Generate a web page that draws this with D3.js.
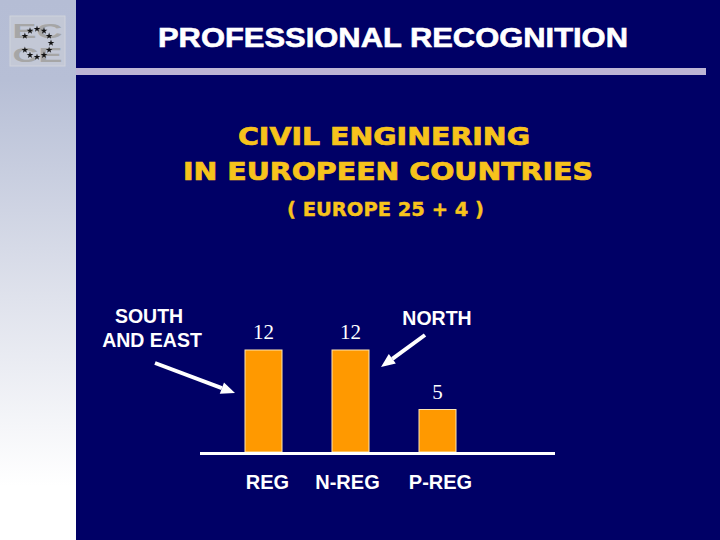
<!DOCTYPE html>
<html>
<head>
<meta charset="utf-8">
<script src="https://cdn.jsdelivr.net/npm/d3@7"></script>
<style>
html,body{margin:0;padding:0;background:#000066;}
svg{display:block;}
</style>
</head>
<body>
<svg id="chart" width="720" height="540"></svg>
<script>
const categories = ["REG", "N-REG", "P-REG"];
const values = [12, 12, 5];
const valueLabels = ["12", "12", "5"];
const mainTitle = "PROFESSIONAL RECOGNITION";
const subTitleLines = ["CIVIL ENGINERING", "IN EUROPEEN COUNTRIES"];
const subNote = "( EUROPE 25 + 4 )";
const southLabel = ["SOUTH", "AND EAST"];
const northLabel = "NORTH";

const svg = d3.select("#chart");
const W = 720, H = 540;
const navy = "#000066";
const defs = svg.append("defs");

// background
svg.append("rect").attr("x", 0).attr("y", 0).attr("width", W).attr("height", H).attr("fill", navy);
const grad = defs.append("linearGradient").attr("id", "side").attr("x1", 0).attr("y1", 0).attr("x2", 0).attr("y2", 1);
grad.append("stop").attr("offset", "0").attr("stop-color", "#b5bdd5");
grad.append("stop").attr("offset", "0.15").attr("stop-color", "#b7bfd6");
grad.append("stop").attr("offset", "0.55").attr("stop-color", "#dfe2ec");
grad.append("stop").attr("offset", "0.9").attr("stop-color", "#ffffff");
grad.append("stop").attr("offset", "1").attr("stop-color", "#ffffff");
svg.append("rect").attr("x", 0).attr("y", 0).attr("width", 76).attr("height", H).attr("fill", "url(#side)");

// header rule
svg.append("rect").attr("x", 76).attr("y", 68).attr("width", 630).attr("height", 7).attr("fill", "#bdb5d5");

// logo
const logo = svg.append("g");
logo.append("rect").attr("x", 10).attr("y", 16).attr("width", 55).attr("height", 50)
  .attr("fill", "#c3c8d6").attr("stroke", "#d0d3dc").attr("stroke-width", 1);
logo.append("text").attr("x", 37.5).attr("y", 37.5).attr("text-anchor", "middle")
  .attr("font-family", "Liberation Sans, Arial, sans-serif").attr("font-weight", "bold")
  .attr("font-size", 21).attr("fill", "#a6a6a6").attr("textLength", 50).attr("lengthAdjust", "spacingAndGlyphs").text("EC");
logo.append("text").attr("x", 37.5).attr("y", 62).attr("text-anchor", "middle")
  .attr("font-family", "Liberation Sans, Arial, sans-serif").attr("font-weight", "bold")
  .attr("font-size", 21).attr("fill", "#a6a6a6").attr("textLength", 50).attr("lengthAdjust", "spacingAndGlyphs").text("CE");
const star = d3.symbol().type(d3.symbolStar).size(14);
d3.range(12).forEach(i => {
  if (i === 9) return;
  const a = i / 12 * 2 * Math.PI;
  logo.append("path").attr("d", star)
    .attr("transform", `translate(${37 + 14 * Math.sin(a)},${43 - 14 * Math.cos(a)})`)
    .attr("fill", "#111");
});

// titles
svg.append("text").attr("x", 158).attr("y", 47)
  .attr("font-family", "Liberation Sans, Arial, sans-serif").attr("font-weight", "bold")
  .attr("font-size", 27).attr("fill", "#ffffff").attr("stroke", "#ffffff").attr("stroke-width", 0.6)
  .attr("textLength", 470).attr("lengthAdjust", "spacingAndGlyphs").text(mainTitle);

const yellow = "#f7c31c";
const subPos = [{x: 238, y: 145, w: 292}, {x: 183, y: 180, w: 410}];
subTitleLines.forEach((t, i) => {
  svg.append("text").attr("x", subPos[i].x).attr("y", subPos[i].y)
    .attr("font-family", "DejaVu Sans, sans-serif").attr("font-weight", "bold")
    .attr("font-size", 24).attr("fill", yellow).attr("stroke", yellow).attr("stroke-width", 0.7)
    .attr("textLength", subPos[i].w).attr("lengthAdjust", "spacingAndGlyphs").text(t);
});
svg.append("text").attr("x", 287).attr("y", 216)
  .attr("font-family", "DejaVu Sans, sans-serif").attr("font-weight", "bold")
  .attr("font-size", 19).attr("fill", yellow).attr("stroke", yellow).attr("stroke-width", 0.4)
  .attr("textLength", 197).attr("lengthAdjust", "spacingAndGlyphs").text(subNote);

// chart
const x = d3.scalePoint().domain(categories).range([263.5, 437.5]);
const y = d3.scaleLinear().domain([0, 12]).range([452, 350]);
const barW = 37;

svg.append("g").selectAll("rect").data(values).join("rect")
  .attr("x", (d, i) => x(categories[i]) - barW / 2)
  .attr("y", d => y(d))
  .attr("width", barW)
  .attr("height", d => y(0) - y(d))
  .attr("fill", "#ff9900")
  .attr("stroke", "#ffe6b0").attr("stroke-width", 1);

svg.append("g").selectAll("text").data(values).join("text")
  .attr("x", (d, i) => x(categories[i]))
  .attr("y", d => y(d) - 11)
  .attr("text-anchor", "middle")
  .attr("font-family", "Liberation Serif, Times New Roman, serif")
  .attr("font-size", 21).attr("fill", "#ffffff")
  .text((d, i) => valueLabels[i]);

// baseline
svg.append("line").attr("x1", 200).attr("x2", 555).attr("y1", y(0) + 1.5).attr("y2", y(0) + 1.5)
  .attr("stroke", "#ffffff").attr("stroke-width", 3);

// category labels
svg.append("g").selectAll("text").data(categories).join("text")
  .attr("x", d => x(d) + [4, -3, 3][categories.indexOf(d)])
  .attr("y", 489)
  .attr("text-anchor", "middle")
  .attr("font-family", "Liberation Sans, Arial, sans-serif").attr("font-weight", "bold")
  .attr("font-size", 20).attr("fill", "#ffffff")
  .text(d => d);

// annotations
const annFont = "Liberation Sans, Arial, sans-serif";
svg.append("text").attr("x", 149).attr("y", 323).attr("text-anchor", "middle")
  .attr("font-family", annFont).attr("font-weight", "bold").attr("font-size", 19.5).attr("fill", "#fff")
  .text(southLabel[0]);
svg.append("text").attr("x", 152).attr("y", 347).attr("text-anchor", "middle")
  .attr("font-family", annFont).attr("font-weight", "bold").attr("font-size", 19.5).attr("fill", "#fff")
  .text(southLabel[1]);
svg.append("text").attr("x", 437).attr("y", 325).attr("text-anchor", "middle")
  .attr("font-family", annFont).attr("font-weight", "bold").attr("font-size", 19.5).attr("fill", "#fff")
  .text(northLabel);

function arrow(x1, y1, x2, y2) {
  const ang = Math.atan2(y2 - y1, x2 - x1);
  const L = 14, Wd = 6;
  const bx = x2 - L * Math.cos(ang), by = y2 - L * Math.sin(ang);
  svg.append("line").attr("x1", x1).attr("y1", y1).attr("x2", bx).attr("y2", by)
    .attr("stroke", "#fff").attr("stroke-width", 4);
  const px = -Math.sin(ang), py = Math.cos(ang);
  svg.append("path")
    .attr("d", d3.line()([[x2, y2], [bx + px * Wd, by + py * Wd], [bx - px * Wd, by - py * Wd]]) + "Z")
    .attr("fill", "#fff");
}
arrow(155, 363, 235, 393);
arrow(425, 335, 381, 367);
</script>
</body>
</html>
